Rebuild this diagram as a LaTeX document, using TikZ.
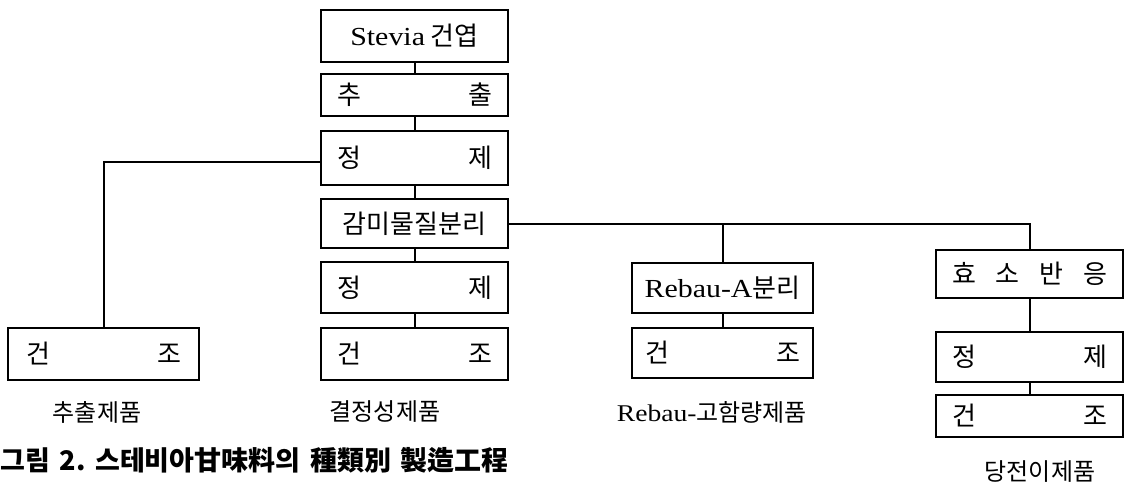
\documentclass[tikz,border=0pt]{standalone}
\usepackage{fontspec}
\setmainfont{Liberation Serif}[FakeStretch=1.15]
\newfontfamily\kr{Noto Sans CJK KR}
\newcommand\spr[2][155pt]{\hbox to #1{#2}}
\newcommand\gap{\hspace{0.36em}}
\tikzset{
  proc/.style={draw, line width=2pt, inner sep=0pt, minimum width=187pt,
    font=\kr\fontsize{26}{30}\selectfont},
  conn/.style={line width=2pt},
  lbl/.style={inner sep=0pt, font=\kr\fontsize{24}{28}\selectfont},
}
\begin{document}
\begin{tikzpicture}[x=1pt,y=-1pt]
\useasboundingbox (0,0) rectangle (1130,488);
% central column
\node[proc, minimum height=52pt] (c1) at (414.5,36) {{\rmfamily Stevia} 건엽};
\node[proc, minimum height=42pt] (c2) at (414.5,94.5) {\spr{추\hfill 출}};
\node[proc, minimum height=54pt] (c3) at (414.5,158) {\spr{정\hfill 제}};
\node[proc, minimum height=49pt] (c4) at (414.5,223.5) {감미물질분리};
\node[proc, minimum height=51pt] (c5) at (414.5,287.5) {\spr{정\hfill 제}};
\node[proc, minimum height=52pt] (c6) at (414.5,354) {\spr{건\hfill 조}};
% left column
\node[proc, minimum width=191pt, minimum height=52pt] (l1) at (103.5,354) {\spr{건\hfill 조}};
% Rebau column
\node[proc, minimum width=181pt, minimum height=50pt] (r1) at (722.5,288) {{\rmfamily Rebau-A}분리};
\node[proc, minimum width=181pt, minimum height=50pt] (r2) at (722.5,353) {\spr{건\hfill 조}};
% enzyme column
\node[proc, minimum height=48pt] (e1) at (1029.5,274) {\spr{효\hfill 소\hfill 반\hfill 응}};
\node[proc, minimum height=50pt] (e2) at (1029.5,357) {\spr{정\hfill 제}};
\node[proc, minimum height=42pt] (e3) at (1029.5,416) {\spr{건\hfill 조}};
% labels
\node[lbl] (p1) at (97,412) {추출제품};
\node[lbl] (p2) at (385,412) {결정성제품};
\node[lbl] (p3) at (712,412) {{\rmfamily Rebau-}고함량제품};
\node[lbl] (p4) at (1040,472) {당전이제품};
\node[anchor=west, inner sep=0pt, font=\kr\bfseries\fontsize{27}{31}\selectfont] (cap) at (0,460) {그림\gap 2.\gap 스테비아甘味料의\gap 種類別\gap 製造工程};
% connectors
\draw[conn] (c1) -- (c2);
\draw[conn] (c2) -- (c3);
\draw[conn] (c3) -- (c4);
\draw[conn] (c4) -- (c5);
\draw[conn] (c5) -- (c6);
\draw[conn] ([yshift=-4pt]c3.west) -| (l1.north);
\draw[conn] (c4.east) -| (e1.north);
\draw[conn] (r1.north) -- (r1.north |- c4.east);
\draw[conn] (r1) -- (r2);
\draw[conn] (e1) -- (e2);
\draw[conn] (e2) -- (e3);
\end{tikzpicture}
\end{document}
